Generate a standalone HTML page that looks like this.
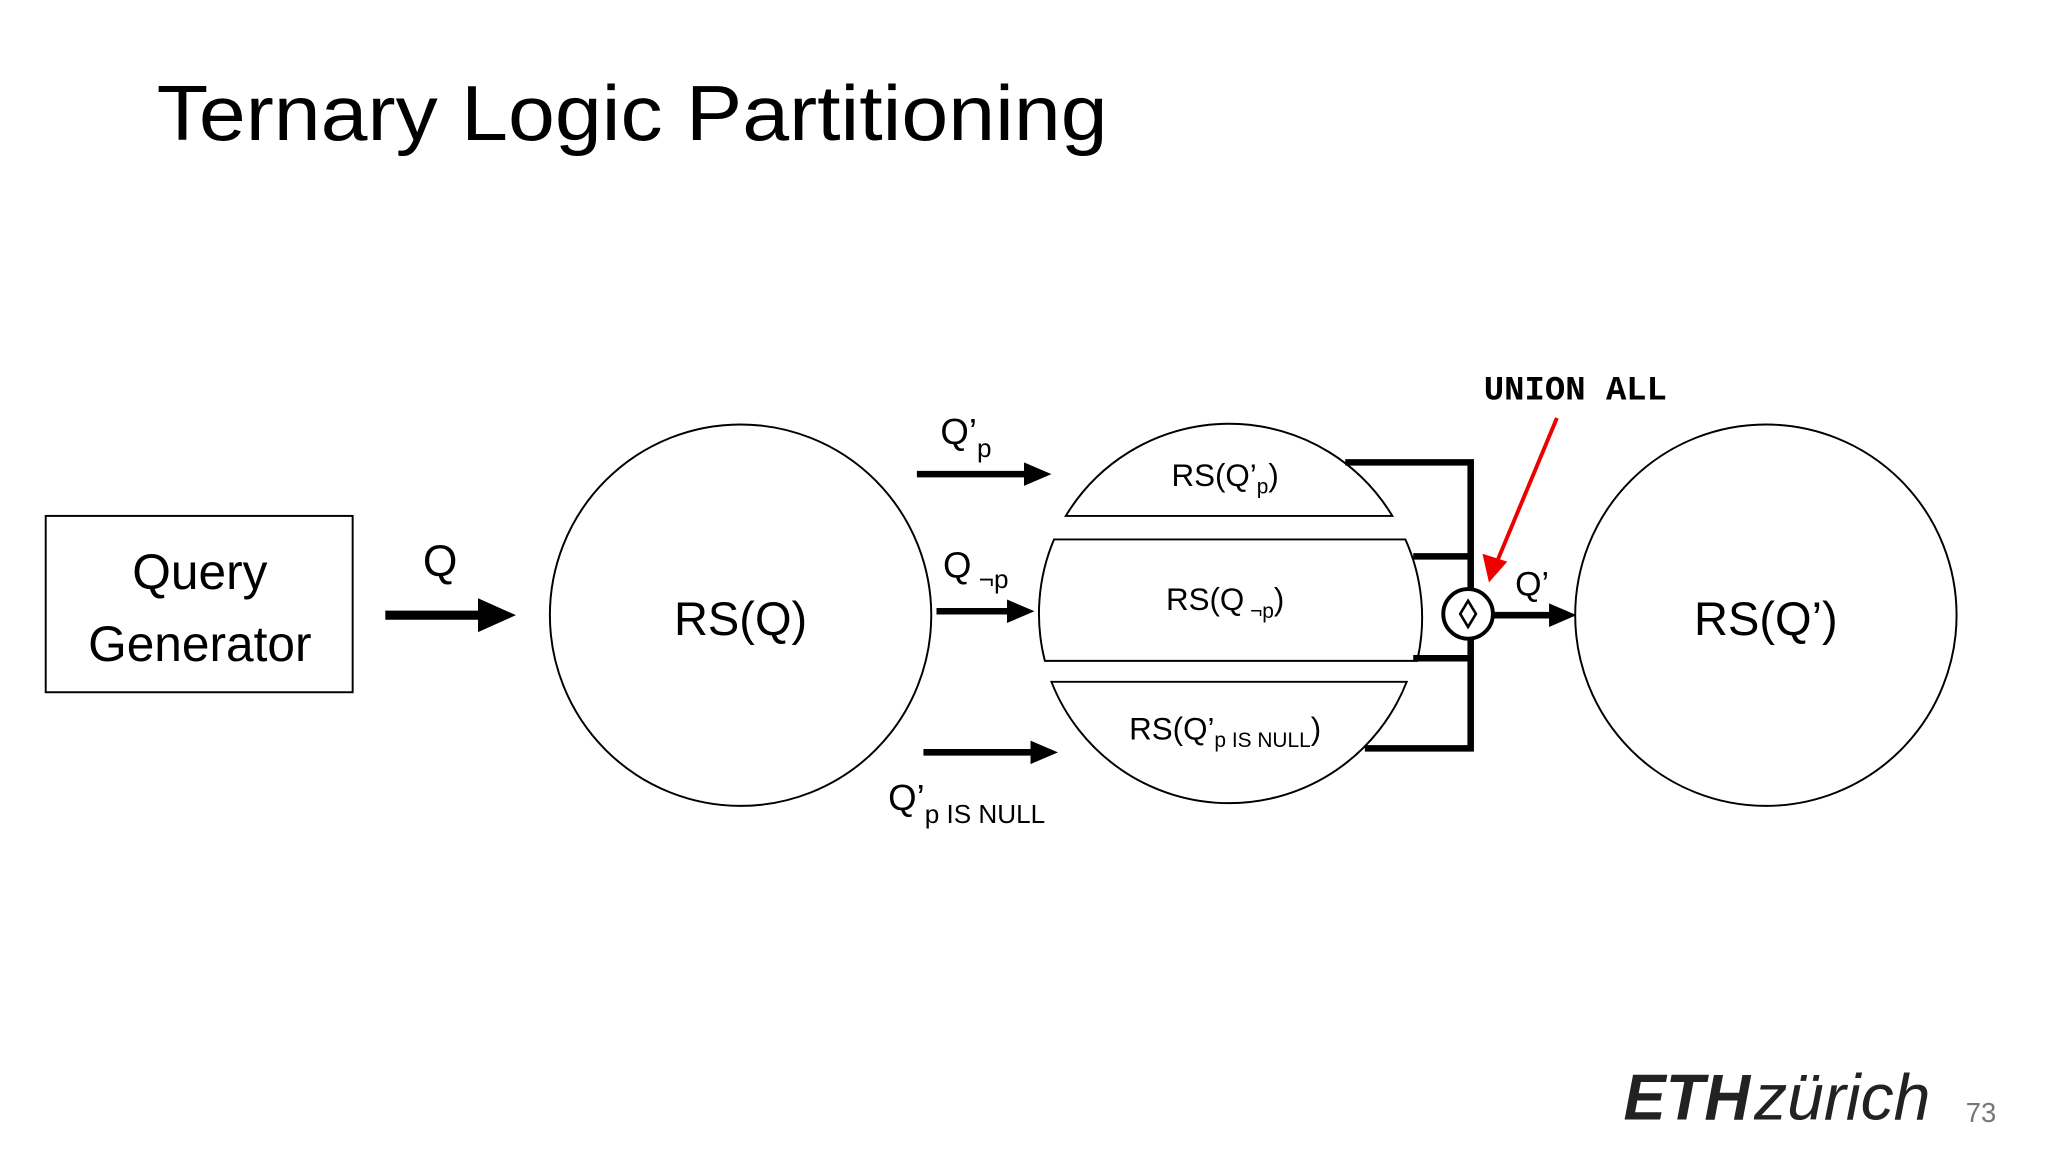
<!DOCTYPE html>
<html><head><meta charset="utf-8"><style>
html,body{margin:0;padding:0;background:#fff;width:2048px;height:1152px;overflow:hidden}
svg{display:block}
text{font-family:"Liberation Sans",sans-serif}
</style></head><body>
<svg width="2048" height="1152" viewBox="0 0 1568 882" xmlns="http://www.w3.org/2000/svg">
<rect width="1568" height="882" fill="#fff"/>
<text x="120" y="107" font-size="60" textLength="728" lengthAdjust="spacingAndGlyphs" fill="#000">Ternary Logic Partitioning</text>

<rect x="35" y="395" width="235" height="135" fill="none" stroke="#000" stroke-width="1.5"/>
<text x="153" y="451" font-size="38" text-anchor="middle">Query</text>
<text x="153" y="506" font-size="38" text-anchor="middle">Generator</text>

<text x="337" y="441" font-size="34" text-anchor="middle">Q</text>
<line x1="295" y1="471" x2="372" y2="471" stroke="#000" stroke-width="7"/>
<path d="M366,458 L395,471 L366,484 Z" fill="#000"/>

<circle cx="567" cy="471" r="146" fill="none" stroke="#000" stroke-width="1.5"/>
<text x="567" y="486" font-size="36" text-anchor="middle">RS(Q)</text>

<line x1="702" y1="363" x2="790" y2="363" stroke="#000" stroke-width="5"/>
<path d="M784,354 L805,363 L784,372 Z"/>
<line x1="717" y1="468" x2="777" y2="468" stroke="#000" stroke-width="5"/>
<path d="M771,459 L792,468 L771,477 Z"/>
<line x1="707" y1="576" x2="795" y2="576" stroke="#000" stroke-width="5"/>
<path d="M789,567 L810,576 L789,585 Z"/>
<text x="720" y="340" font-size="28">Q’<tspan font-size="20" dy="10">p</tspan></text>
<text x="722" y="442" font-size="28">Q<tspan font-size="20" dy="8"> ¬p</tspan></text>
<text x="680" y="620" font-size="28">Q’<tspan font-size="20" dy="10">p IS NULL</tspan></text>

<path d="M816,395 A146,146 0 0 1 1066,395 Z" fill="none" stroke="#000" stroke-width="1.5"/>
<path d="M807,413 L1076,413 A146,146 0 0 1 1085,506 L800,506 A146,146 0 0 1 807,413 Z" fill="none" stroke="#000" stroke-width="1.5"/>
<path d="M805,522 L1077,522 A146,146 0 0 1 805,522 Z" fill="none" stroke="#000" stroke-width="1.5"/>
<text x="938" y="372" font-size="24" text-anchor="middle">RS(Q’<tspan font-size="16" dy="6">p</tspan><tspan dy="-6">)</tspan></text>
<text x="938" y="467" font-size="24" text-anchor="middle">RS(Q<tspan font-size="16" dy="6"> ¬p</tspan><tspan dy="-6">)</tspan></text>
<text x="938" y="566" font-size="24" text-anchor="middle">RS(Q’<tspan font-size="16" dy="6">p IS NULL</tspan><tspan dy="-6">)</tspan></text>

<path d="M1030,354 L1126,354 L1126,573 L1045,573" fill="none" stroke="#000" stroke-width="5"/>
<line x1="1082" y1="426" x2="1126" y2="426" stroke="#000" stroke-width="5"/>
<line x1="1082" y1="504" x2="1126" y2="504" stroke="#000" stroke-width="5"/>
<circle cx="1124" cy="470" r="19" fill="#fff" stroke="#000" stroke-width="3"/>
<path d="M1124,460 L1130,470 L1124,480 L1118,470 Z" fill="none" stroke="#000" stroke-width="2"/>
<line x1="1143" y1="471" x2="1192" y2="471" stroke="#000" stroke-width="5"/>
<path d="M1186,462 L1207,471 L1186,480 Z"/>
<text x="1160" y="456" font-size="26">Q’</text>

<line x1="1192" y1="320" x2="1147" y2="428" stroke="#e00" stroke-width="3"/>
<path d="M1135,424 L1140,446 L1154,430 Z" fill="#e00"/>
<text x="1136" y="306" font-size="26" font-weight="bold" style="font-family:'Liberation Mono',monospace">UNION ALL</text>

<circle cx="1352" cy="471" r="146" fill="none" stroke="#000" stroke-width="1.5"/>
<text x="1352" y="486" font-size="36" text-anchor="middle">RS(Q’)</text>

<text x="1243" y="857" font-size="50" font-weight="bold" font-style="italic" fill="#222" textLength="97" lengthAdjust="spacingAndGlyphs">ETH</text>
<text x="1343" y="857" font-size="50" font-style="italic" fill="#222" textLength="135" lengthAdjust="spacingAndGlyphs">zürich</text>
<text x="1505" y="859" font-size="21" fill="#777">73</text>
</svg>
</body></html>
